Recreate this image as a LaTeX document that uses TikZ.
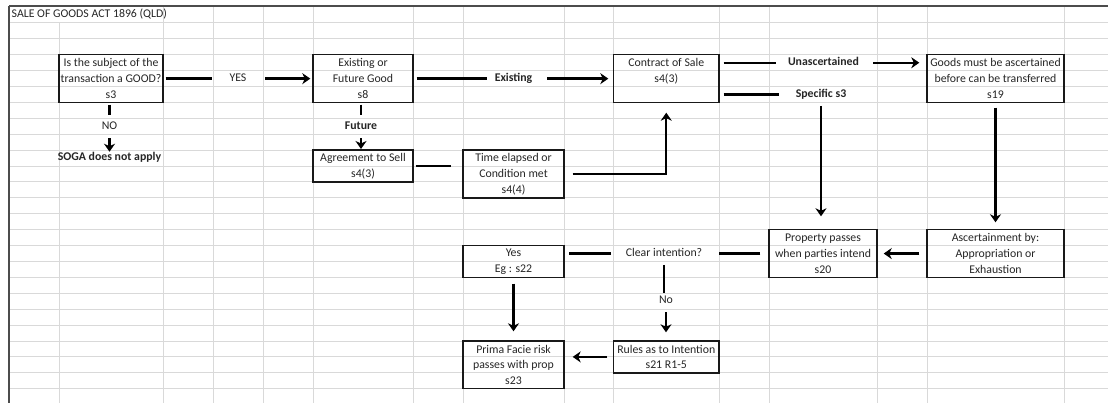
\documentclass[tikz,border=0pt]{standalone}
\usepackage{fontspec}
\setmainfont{Carlito}
\usetikzlibrary{arrows.meta}
\newcommand\diagfs{\fontsize{11.8pt}{15.9pt}\selectfont}
\begin{document}
\begin{tikzpicture}[x=1pt,y=-1pt,
  gridln/.style={draw=gray!30, line width=1pt},
  border/.style={draw=black!70, line width=1.8pt},
  box/.style={draw=black!90, line width=1.4pt, inner sep=0pt, align=center, font=\diagfs, text=black!85},
  lbl/.style={inner sep=0pt, font=\diagfs, text=black!85, text height=8pt, text depth=2.5pt},
  blbl/.style={lbl, font=\diagfs\bfseries},
  ln/.style={draw=black, line width=2.4pt},
  ar/.style={ln, -{Stealth[length=8pt,width=11pt,inset=2.5pt]}}
]
\useasboundingbox (0,0) rectangle (1108,403);
\fill[white] (0,0) rectangle (1108,403);
% spreadsheet grid
\foreach \k in {0,...,23} \draw[gridln] (9,{23+15.9*\k}) -- (1108,{23+15.9*\k});
\draw[gridln] (59,23) -- (59,403);
\foreach \xx in {163,213,263,313,413,463,564,613.5,719,769,877,927,1064}
  \draw[gridln] (\xx,6) -- (\xx,403);
\draw[border] (9,6) -- (1108,6);
\draw[border] (9,6) -- (9,403);
% title
\node[lbl, anchor=west] (title) at (11.5,15) {SALE OF GOODS ACT 1896 (QLD)};
% boxes
\node[box, minimum width=104pt, minimum height=47.7pt] (b1) at (111,78.65) {Is the subject of the\\transaction a GOOD?\\s3};
\node[box, minimum width=100pt, minimum height=47.7pt] (b2) at (363,78.65) {Existing or\\Future Good\\s8};
\node[box, minimum width=105.5pt, minimum height=47.7pt] (cos) at (666.25,78.65) {Contract of Sale\\s4(3)\\\phantom{s}};
\node[box, minimum width=137pt, minimum height=47.7pt] (s19) at (995.5,78.65) {Goods must be ascertained\\before can be transferred\\s19};
\node[box, minimum width=100pt, minimum height=31.8pt] (b3) at (363,166.1) {Agreement to Sell\\s4(3)};
\node[box, minimum width=101pt, minimum height=47.7pt] (tim) at (513.5,174.05) {Time elapsed or\\Condition met\\s4(4)};
\node[box, minimum width=108pt, minimum height=47.7pt] (prop) at (823,253.55) {Property passes\\when parties intend\\s20};
\node[box, minimum width=137pt, minimum height=47.7pt] (asc) at (995.5,253.55) {Ascertainment by:\\Appropriation or\\Exhaustion};
\node[box, minimum width=101pt, minimum height=31.8pt] (yes2) at (513.5,261.5) {Yes\\Eg : s22};
\node[box, minimum width=105.5pt, minimum height=31.8pt] (rul) at (666.25,356.9) {Rules as to Intention\\s21 R1-5};
\node[box, minimum width=101pt, minimum height=47.7pt] (pf) at (513.5,364.85) {Prima Facie risk\\passes with prop\\s23};
% labels
\node[lbl] (yes) at (238,78.65) {YES};
\node[blbl] (ex) at (513.5,78.65) {Existing};
\node[blbl] (una) at (823.5,62.75) {Unascertained};
\node[blbl] (spe) at (821,94.55) {Specific s3};
\node[lbl] (no) at (109.5,126.3) {NO};
\node[blbl] (soga) at (109.5,158.2) {SOGA does not apply};
\node[blbl] (fut) at (361,126.3) {Future};
\node[lbl] (clr) at (664,253.55) {Clear intention?};
\node[lbl] (no2) at (666,301.25) {No};
% connectors
\draw[ln, shorten <=2pt, shorten >=17.6pt] (b1.east) -- (yes.west);
\draw[ar, shorten <=18.6pt, shorten >=2pt] (yes.east) -- (b2.west);
\draw[ln, shorten <=1.5pt, shorten >=6pt] (b1.south -| no) -- (no.north);
\draw[ar, shorten <=6.5pt, shorten >=1pt] (no.south) -- (no.south |- soga.north);
\draw[ln, shorten <=3pt, shorten >=8pt] (b2.east) -- (ex.west);
\draw[ar, shorten <=15pt, shorten >=4.5pt] (ex.east) -- (cos.west);
\draw[ln, shorten <=1.5pt, shorten >=6pt] (b2.south -| fut) -- (fut.north);
\draw[ar, shorten <=6.5pt, shorten >=0.5pt] (fut.south) -- (fut.south |- b3.north);
\draw[ln, shorten <=2pt, shorten >=11pt] (b3.east) -- (b3.east -| tim.west);
\draw[ar, shorten <=8pt, shorten >=9.5pt] (tim.east) -| (cos.south);
\draw[ln, shorten <=4pt, shorten >=12pt] (cos.east |- una) -- (una.west);
\draw[ar, shorten <=14pt, shorten >=7pt] (una.east) -- (una.east -| s19.west);
\draw[ln, shorten <=4pt, shorten >=17pt] (cos.east |- spe) -- (spe.west);
\draw[ar, shorten <=6pt, shorten >=12.7pt] (spe.south) -- (spe.south |- prop.north);
\draw[ar, shorten <=4.5pt, shorten >=6.7pt] (s19.south) -- (asc.north);
\draw[ar, shorten <=7pt, shorten >=6pt] (asc.west) -- (prop.east);
\draw[ln, shorten <=8pt, shorten >=16.5pt] (prop.west) -- (clr.east);
\draw[ln, shorten <=14.5pt, shorten >=4pt] (clr.west) -- (clr.west -| yes2.east);
\draw[ln, shorten <=6pt, shorten >=3pt] (clr.south) -- (clr.south |- no2.north);
\draw[ar, shorten <=5.5pt, shorten >=8pt] (no2.south) -- (no2.south |- rul.north);
\draw[ar, shorten <=5.5pt, shorten >=8pt] (rul.west) -- (rul.west -| pf.east);
\draw[ar, shorten <=5.6pt, shorten >=9pt] (yes2.south) -- (pf.north);
\end{tikzpicture}
\end{document}
